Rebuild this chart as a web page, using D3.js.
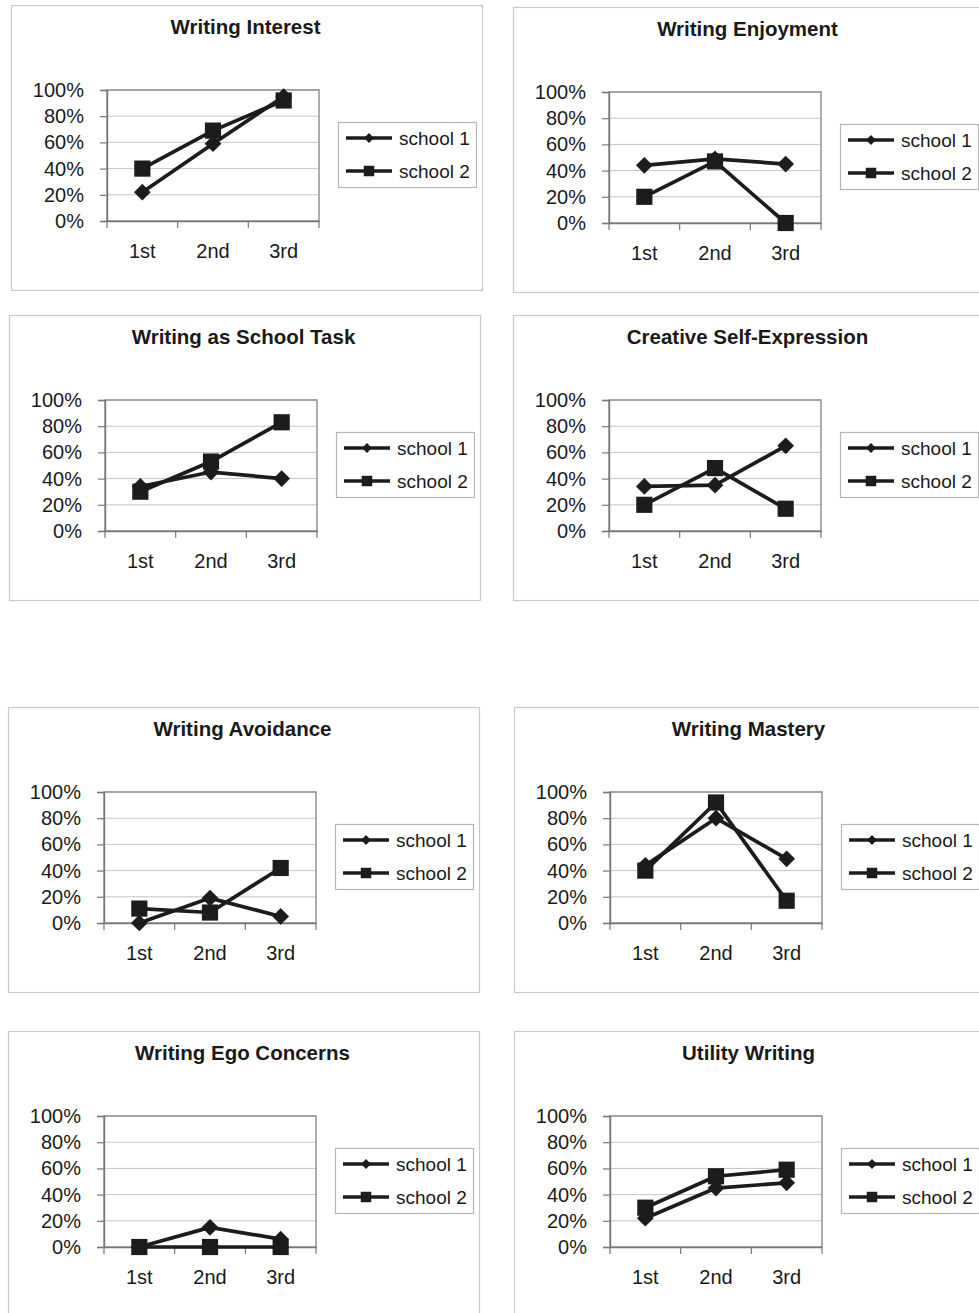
<!DOCTYPE html>
<html>
<head>
<meta charset="utf-8">
<script src="https://cdn.jsdelivr.net/npm/d3@7"></script>
<style>
  html, body { margin: 0; padding: 0; background: #fff; }
  svg { display: block; }
  text { font-family: "Liberation Sans", Arial, sans-serif; fill: #1a1a1a; }
</style>
</head>
<body>
<svg id="chart" width="979" height="1313"></svg>
<script>
// Categories, series and tick values
const categories = ["1st", "2nd", "3rd"];
const seriesNames = ["school 1", "school 2"];
const titles = [
  "Writing Interest", "Writing Enjoyment",
  "Writing as School Task", "Creative Self-Expression",
  "Writing Avoidance", "Writing Mastery",
  "Writing Ego Concerns", "Utility Writing"
];
const school1 = [
  [0.22, 0.59, 0.95],
  [0.44, 0.49, 0.45],
  [0.34, 0.45, 0.40],
  [0.34, 0.35, 0.65],
  [0.00, 0.19, 0.05],
  [0.44, 0.80, 0.49],
  [0.00, 0.15, 0.06],
  [0.22, 0.45, 0.49]
];
const school2 = [
  [0.40, 0.69, 0.92],
  [0.20, 0.47, 0.00],
  [0.30, 0.53, 0.83],
  [0.20, 0.48, 0.17],
  [0.11, 0.08, 0.42],
  [0.40, 0.92, 0.17],
  [0.00, 0.00, 0.00],
  [0.30, 0.54, 0.59]
];
const yTicks = [0, 0.2, 0.4, 0.6, 0.8, 1];

// Panel frame origins (top-left of each chart box)
const frames = [
  [11, 5], [513, 7],
  [9, 315], [513, 315],
  [8, 707], [514, 707],
  [8, 1031], [514, 1031]
];

const boxW = 471, boxH = 285;
const plotDX = 96, plotDY = 85, plotW = 212, plotH = 131;
const ink = "#1c1c1c";
const textInk = "#161616";

const svg = d3.select("#chart");

const x = d3.scaleBand().domain(categories).range([0, plotW]);
const y = d3.scaleLinear().domain([0, 1]).range([plotH, 0]);

const squareSym = d3.symbol().type(d3.symbolSquare);

function addMarker(parent, kind, cx, cy, big) {
  const m = parent.append("g").attr("transform", `translate(${cx},${cy})`);
  if (kind === 0) {
    // diamond: a square turned by 45 degrees
    m.append("path").attr("d", squareSym.size(big ? 140 : 48)())
      .attr("transform", "rotate(45)").attr("fill", ink);
  } else {
    m.append("path").attr("d", squareSym.size(big ? 262 : 110)()).attr("fill", ink);
  }
}

titles.forEach((title, i) => {
  const [bx, by] = frames[i];
  const g = svg.append("g").attr("transform", `translate(${bx},${by})`);

  // Outer chart frame
  g.append("rect")
    .attr("x", 0.5).attr("y", 0.5)
    .attr("width", boxW).attr("height", boxH)
    .attr("fill", "none").attr("stroke", "#c9c9c9").attr("stroke-width", 1.2);

  // Title
  g.append("text")
    .attr("x", boxW / 2 - 1).attr("y", 29)
    .attr("text-anchor", "middle")
    .attr("font-size", 20.5).attr("font-weight", "bold")
    .attr("fill", textInk)
    .text(title);

  const p = g.append("g").attr("transform", `translate(${plotDX},${plotDY})`);

  // Horizontal gridlines
  p.selectAll("line.grid").data(yTicks.filter(v => v > 0)).enter().append("line")
    .attr("x1", 0).attr("x2", plotW)
    .attr("y1", d => y(d)).attr("y2", d => y(d))
    .attr("stroke", "#c4c4c4").attr("stroke-width", 1);

  // Plot area border
  p.append("rect")
    .attr("x", 0).attr("y", 0).attr("width", plotW).attr("height", plotH)
    .attr("fill", "none").attr("stroke", "#8a8a8a").attr("stroke-width", 1.4);

  // Y axis
  const ya = p.append("g").call(
    d3.axisLeft(y).tickValues(yTicks).tickFormat(d3.format(".0%"))
      .tickSize(7).tickPadding(16)
  );
  ya.select(".domain").attr("stroke", "#777").attr("stroke-width", 1.4);
  ya.selectAll(".tick line").attr("stroke", "#777").attr("stroke-width", 1.2);
  ya.selectAll(".tick text").attr("font-size", 20).attr("fill", textInk)
    .attr("font-family", "Liberation Sans, Arial, sans-serif");

  // X axis: category labels with tick marks on band boundaries
  const xa = p.append("g").attr("transform", `translate(0,${plotH})`).call(
    d3.axisBottom(x).tickSize(0).tickPadding(23)
  );
  xa.select(".domain").attr("stroke", "#777").attr("stroke-width", 1.4);
  xa.selectAll(".tick text").attr("font-size", 20).attr("fill", textInk)
    .attr("font-family", "Liberation Sans, Arial, sans-serif");
  const edges = categories.map(c => x(c)).concat([x.range()[1]]);
  p.selectAll("line.edge").data(edges).enter().append("line")
    .attr("x1", d => d).attr("x2", d => d)
    .attr("y1", plotH).attr("y2", plotH + 7)
    .attr("stroke", "#777").attr("stroke-width", 1.2);

  // Series lines and markers
  const cx = k => x(categories[k]) + x.bandwidth() / 2;
  const line = d3.line().x((d, k) => cx(k)).y(d => y(d));

  [school1[i], school2[i]].forEach((vals, s) => {
    p.append("path")
      .attr("d", line(vals))
      .attr("fill", "none").attr("stroke", ink)
      .attr("stroke-width", 3.7).attr("stroke-linejoin", "round");
    vals.forEach((v, k) => addMarker(p, s, cx(k), y(v), true));
  });

  // Legend
  const lg = p.append("g").attr("transform", `translate(${plotW + 19},32)`);
  lg.append("rect")
    .attr("x", 0.5).attr("y", 0.5).attr("width", 138).attr("height", 65)
    .attr("fill", "#fff").attr("stroke", "#b5b5b5").attr("stroke-width", 1.2);
  seriesNames.forEach((name, s) => {
    const ry = 16 + s * 33;
    lg.append("line")
      .attr("x1", 8).attr("x2", 54).attr("y1", ry).attr("y2", ry)
      .attr("stroke", ink).attr("stroke-width", 3.7);
    addMarker(lg, s, 31, ry, false);
    lg.append("text")
      .attr("x", 61).attr("y", ry).attr("dy", "0.35em")
      .attr("font-size", 19).attr("fill", textInk)
      .text(name);
  });
});
</script>
</body>
</html>
